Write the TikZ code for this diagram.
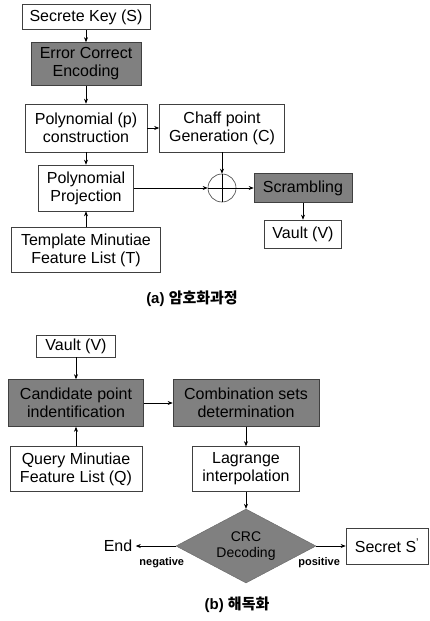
\documentclass[tikz,border=0pt]{standalone}
\usepackage{fontspec}
\setmainfont{Liberation Sans}
\newfontfamily\kofont{Noto Sans CJK KR}
\usetikzlibrary{positioning,shapes.geometric,arrows.meta}

\begin{document}
\begin{tikzpicture}[x=1pt, y=-1pt,
                    >={Stealth[length=5pt,width=4pt]},
                    every node/.style={font=\fontsize{16}{18}\selectfont},
                    block/.style={rectangle, draw=black!75, line width=0.6pt, align=center, inner sep=0pt},
                    darkblock/.style={block, fill=black!50},
                    decision/.style={diamond, draw=black!60, fill=black!50, aspect=1.9, inner sep=0pt,
                                     minimum width=140pt, minimum height=74pt, align=center,
                                     font=\fontsize{14}{16}\selectfont},
                    flow/.style={->, line width=0.6pt},
                    branch/.style={font=\fontsize{11}{12}\selectfont\bfseries, inner sep=1pt},
                    caption/.style={font=\fontsize{15}{17}\selectfont\bfseries}]
  \useasboundingbox (0,0) rectangle (429,621);
  % (a) encoding
  \node[block, minimum width=128pt, minimum height=25pt](key) at (86,17) {Secrete Key (S)};
  \node[darkblock, minimum width=110pt, minimum height=43pt](ecc) [below of=key, node distance=47pt] {Error Correct\\Encoding};
  \node[block, minimum width=122pt, minimum height=48pt](poly) [below of=ecc, node distance=64pt] {Polynomial (p)\\construction};
  \node[block, minimum width=125pt, minimum height=48pt](chaff) [right of=poly, node distance=136pt] {Chaff point\\Generation (C)};
  \node[block, minimum width=95pt, minimum height=46pt](proj) [below of=poly, node distance=60pt] {Polynomial\\Projection};
  \node[circle, draw=black!75, line width=0.6pt, minimum size=28pt, inner sep=0pt](xor) [below of=chaff, node distance=60pt] {};
  \draw[line width=0.6pt] (xor.north) -- (xor.south) (xor.west) -- (xor.east);
  \node[darkblock, minimum width=98pt, minimum height=29pt](scr) [right of=xor, node distance=81pt] {Scrambling};
  \node[block, minimum width=77pt, minimum height=28pt](vaultA) [below of=scr, node distance=46pt] {Vault (V)};
  \node[block, minimum width=149pt, minimum height=45pt](tmpl) [below of=proj, node distance=62pt] {Template Minutiae\\Feature List (T)};
  \node[caption](capA) at (192,299) {(a) {\kofont 암호화과정}};

  \draw[flow] (key) -- (ecc);
  \draw[flow] (ecc) -- (poly);
  \draw[flow] (poly) -- (chaff);
  \draw[flow] (poly) -- (proj);
  \draw[flow] (tmpl) -- (proj);
  \draw[flow] (proj) -- (xor);
  \draw[flow] (chaff) -- (xor);
  \draw[flow] (xor) -- (scr);
  \draw[flow] (scr) -- (vaultA);

  % (b) decoding
  \node[block, minimum width=79pt, minimum height=22pt](vaultB) at (76,346) {Vault (V)};
  \node[darkblock, minimum width=135pt, minimum height=47pt](cand) [below of=vaultB, node distance=57pt] {Candidate point\\indentification};
  \node[darkblock, minimum width=146pt, minimum height=47pt](comb) [right of=cand, node distance=170pt] {Combination sets\\determination};
  \node[block, minimum width=132pt, minimum height=45pt](query) [below of=cand, node distance=66pt] {Query Minutiae\\Feature List (Q)};
  \node[block, minimum width=107pt, minimum height=45pt](lag) [below of=comb, node distance=66pt] {Lagrange\\interpolation};
  \node[decision](crc) [below of=lag, node distance=77pt] {CRC\\Decoding};
  \node(end) [left of=crc, node distance=128pt] {End};
  \node[block, minimum width=82pt, minimum height=36pt](secret) [right of=crc, node distance=141pt] {Secret S\textsuperscript{'}};
  \node[caption](capB) at (237,605) {(b) {\kofont 해독화}};

  \draw[flow] (vaultB) -- (cand);
  \draw[flow] (query) -- (cand);
  \draw[flow] (cand) -- (comb);
  \draw[flow] (comb) -- (lag);
  \draw[flow] (lag) -- (crc);
  \draw[flow] (crc) -- node[branch, pos=0.35, below=10pt]{negative} (end);
  \draw[flow] (crc) -- node[branch, pos=0.1, below=10pt]{positive} (secret);
\end{tikzpicture}
\end{document}
